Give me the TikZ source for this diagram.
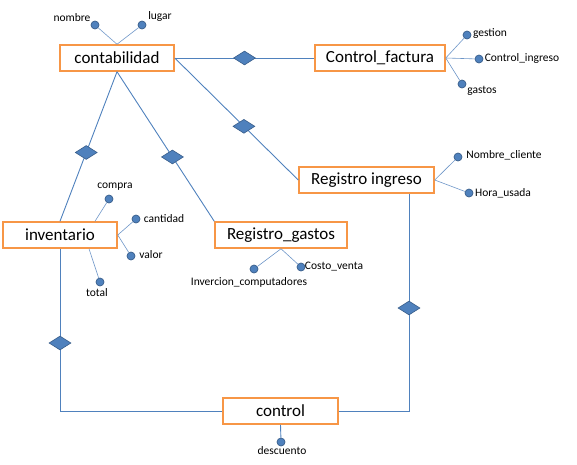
\documentclass[tikz,border=0pt]{standalone}
\usepackage{fontspec}
\setmainfont{Carlito}
\usetikzlibrary{shapes.geometric,calc}
\definecolor{ercolor0000}{RGB}{79,129,189}
\definecolor{ercolor0001}{RGB}{56,93,138}
\definecolor{ercolor0002}{RGB}{247,150,70}
\definecolor{ercolor0003}{RGB}{110,150,200}

\begin{document}
\begin{tikzpicture}[yscale=-1
,estyle0/.style={draw=ercolor0002,line width=1.5pt,fill=white,minimum height=26pt,inner sep=0pt,font=\fontsize{17}{19}\selectfont}
,estyle1/.style={color=ercolor0000,line width=0.9pt}
,estyle2/.style={color=ercolor0003,line width=0.6pt}
,estyle3/.style={diamond,draw=ercolor0001,fill=ercolor0000,line width=0.6pt,minimum width=22pt,minimum height=14pt,inner sep=0pt}
,estyle4/.style={circle,draw=ercolor0001,fill=ercolor0000,line width=0.7pt,minimum size=8pt,inner sep=0pt}
,estyle5/.style={inner sep=0pt,font=\fontsize{11.5}{13}\selectfont}
]
\useasboundingbox (0pt,0pt) rectangle (577pt,464pt);
\node[estyle0,minimum width=114pt] (cont) at (117pt,58pt) {contabilidad};
\node[estyle0,minimum width=130pt] (cf) at (380pt,58pt) {Control\_factura};
\node[estyle0,minimum width=135pt] (ri) at (366.5pt,180pt) {Registro ingreso};
\node[estyle0,minimum width=114pt] (inv) at (60pt,235pt) {inventario};
\node[estyle0,minimum width=132pt] (rg) at (281pt,235pt) {Registro\_gastos};
\node[estyle0,minimum width=115pt] (ctrl) at (280.5pt,411pt) {control};
\node[estyle4] (nombre) at (95pt,25pt) {};
\node[estyle5] (nombre_t) at (72pt,18pt) {nombre};
\node[estyle4] (lugar) at (142pt,25pt) {};
\node[estyle5] (lugar_t) at (160pt,16pt) {lugar};
\node[estyle4] (gestion) at (467pt,35pt) {};
\node[estyle5] (gestion_t) at (490pt,34pt) {gestion};
\node[estyle4] (cingreso) at (479pt,59pt) {};
\node[estyle5] (cingreso_t) at (522pt,58pt) {Control\_ingreso};
\node[estyle4] (gastos) at (462pt,84pt) {};
\node[estyle5] (gastos_t) at (482pt,91pt) {gastos};
\node[estyle4] (ncliente) at (458pt,157pt) {};
\node[estyle5] (ncliente_t) at (504pt,155pt) {Nombre\_cliente};
\node[estyle4] (husada) at (469pt,193pt) {};
\node[estyle5] (husada_t) at (503pt,193pt) {Hora\_usada};
\node[estyle4] (compra) at (109pt,199pt) {};
\node[estyle5] (compra_t) at (115pt,187pt) {compra};
\node[estyle4] (cantidad) at (136pt,219pt) {};
\node[estyle5] (cantidad_t) at (164pt,219pt) {cantidad};
\node[estyle4] (valor) at (131pt,256pt) {};
\node[estyle5] (valor_t) at (151pt,255pt) {valor};
\node[estyle4] (total) at (100pt,282pt) {};
\node[estyle5] (total_t) at (97pt,293pt) {total};
\node[estyle4] (invcomp) at (254pt,269pt) {};
\node[estyle5] (invcomp_t) at (249pt,282pt) {Invercion\_computadores};
\node[estyle4] (cventa) at (301pt,267pt) {};
\node[estyle5] (cventa_t) at (334pt,267pt) {Costo\_venta};
\node[estyle4] (descuento) at (281pt,442pt) {};
\node[estyle5] (descuento_t) at (282pt,451pt) {descuento};
% atributos
\draw[estyle2] (cont.north) -- (nombre);
\draw[estyle2] (cont.north) -- (lugar);
\draw[estyle2] (cf.east) -- (gestion);
\draw[estyle2] (cf.east) -- (cingreso);
\draw[estyle2] (cf.east) -- (gastos);
\draw[estyle2] (ri.east) -- (ncliente);
\draw[estyle2] (ri.east) -- (husada);
\draw[estyle2] ([xshift=35pt]inv.north) -- (compra);
\draw[estyle2] (inv.east) -- (cantidad);
\draw[estyle2] (inv.east) -- (valor);
\draw[estyle2] ([xshift=29pt]inv.south) -- (total);
\draw[estyle2] (rg.south) -- (invcomp);
\draw[estyle2] (rg.south) -- (cventa);
\draw[estyle1] (ctrl.south) -- (descuento);
% relaciones
\draw[estyle1] (cont.east) -- (cf.west);
\draw[estyle1] (cont.east) -- (ri.west);
\draw[estyle1] (cont.south) -- (inv.north);
\draw[estyle1] (cont.south) -- (rg.north west);
\draw[estyle1] (inv.south) |- (ctrl.west);
\draw[estyle1] (ctrl.east) -| ([xshift=42.5pt]ri.south);
\node[estyle3] (r1) at ($(cont.east)!0.5!(cf.west)$) {};
\node[estyle3] (r2) at ($(cont.east)!0.56!(ri.west)$) {};
\node[estyle3] (r3) at ($(cont.south)!0.54!(inv.north)$) {};
\node[estyle3] (r4) at ($(cont.south)!0.57!(rg.north west)$) {};
\node[estyle3] (r5) at (60pt,343pt) {};
\node[estyle3] (r6) at (409pt,308pt) {};
\end{tikzpicture}
\end{document}
